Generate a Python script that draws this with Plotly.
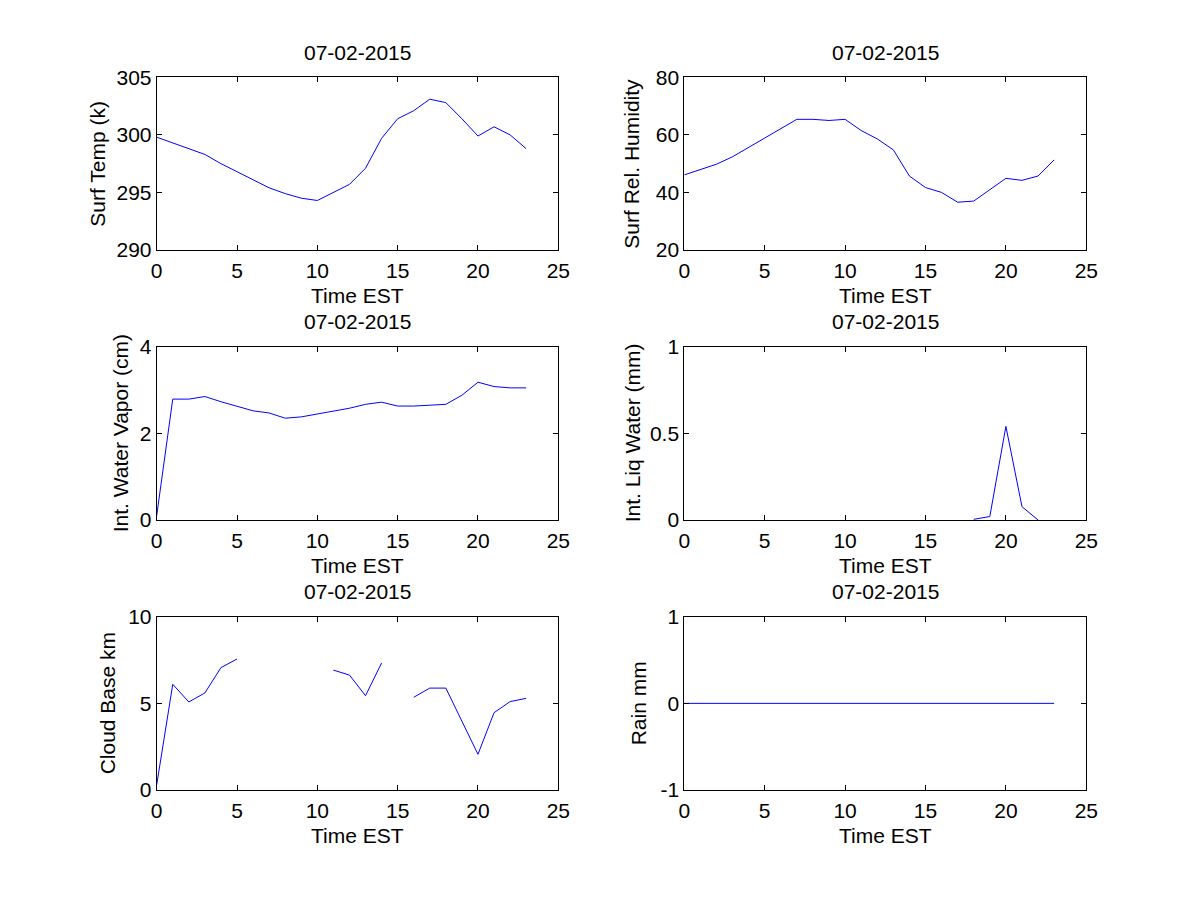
import plotly.graph_objects as go

hours = list(range(24))
title_date = "07-02-2015"
x_label = "Time EST"

surf_temp = [299.8, 299.3, 298.8, 298.3, 297.5, 296.8, 296.1, 295.4, 294.9, 294.5,
             294.3, 295.0, 295.7, 297.1, 299.7, 301.4, 302.1, 303.1, 302.8, 301.4,
             299.9, 300.7, 300.0, 298.8]
surf_rh = [46.1, 48.0, 49.8, 52.4, 55.7, 58.7, 62.3, 65.4, 65.4, 65.0,
           65.4, 61.5, 58.6, 54.8, 45.7, 41.7, 40.0, 36.6, 37.0, 40.9,
           44.9, 44.2, 45.7, 51.3]
int_wv = [0.1, 2.79, 2.79, 2.85, 2.73, 2.62, 2.52, 2.47, 2.35, 2.38,
          2.45, 2.52, 2.58, 2.67, 2.72, 2.63, 2.63, 2.65, 2.67, 2.88,
          3.18, 3.08, 3.05, 3.05]
int_lw = [None, None, None, None, None, None, None, None, None, None,
          None, None, None, None, None, None, None, None, 0.004, 0.02,
          0.54, 0.077, 0, None]
cloud_base = [0.3, 6.1, 5.08, 5.6, 7.06, 7.56, None, None, None, None,
              None, 6.92, 6.63, 5.44, 7.33, None, 5.35, 5.88, 5.88, 3.94,
              2.06, 4.46, 5.1, 5.29]
rain = [0] * 24

y_labels = ["Surf Temp (k)", "Surf Rel. Humidity", "Int. Water Vapor (cm)",
            "Int. Liq Water (mm)", "Cloud Base km", "Rain mm"]
series = [surf_temp, surf_rh, int_wv, int_lw, cloud_base, rain]
y_ranges = [[290, 305], [20, 80], [0, 4], [0, 1], [0, 10], [-1, 1]]
y_ticks = [[290, 295, 300, 305], [20, 40, 60, 80], [0, 2, 4], [0, 0.5, 1],
           [0, 5, 10], [-1, 0, 1]]
y_ticktext = [["290", "295", "300", "305"], ["20", "40", "60", "80"],
              ["0", "2", "4"], ["0", "0.5", "1"], ["0", "5", "10"],
              ["-1", "0", "1"]]
x_ticks = [0, 5, 10, 15, 20, 25]

W, H = 1200, 900
OFF = 8  # page body margin offset
col_px = [(156.7, 558.3), (684.3, 1086.3)]
row_px = [(77.3, 250.0), (346.7, 520.0), (616.7, 790.0)]
ylab_x = [98, 632, 120, 632, 107, 638]

FONT = "Liberation Sans, Arial, sans-serif"
FS = 21


def px_x(v):
    return (v - OFF) / W


def px_y(v):
    return 1 - (v - OFF) / H


fig = go.Figure()
annotations = []
for i in range(6):
    r, c = divmod(i, 2)
    xa = "x" if i == 0 else f"x{i+1}"
    ya = "y" if i == 0 else f"y{i+1}"
    fig.add_trace(go.Scatter(x=hours, y=series[i], mode="lines",
                             line=dict(color="#0000ff", width=1),
                             connectgaps=False, xaxis=xa, yaxis=ya,
                             showlegend=False, hoverinfo="skip"))
    x0, x1 = col_px[c]
    y0, y1 = row_px[r]
    xd = [px_x(x0), px_x(x1)]
    yd = [px_y(y1), px_y(y0)]
    common = dict(showline=True, linecolor="black", linewidth=1, mirror="ticks",
                  ticks="inside", ticklen=5, tickcolor="black", tickwidth=1,
                  showgrid=False, zeroline=False, automargin=False,
                  tickfont=dict(family=FONT, size=FS, color="black"),
                  layer="above traces")
    xname = "xaxis" if i == 0 else f"xaxis{i+1}"
    yname = "yaxis" if i == 0 else f"yaxis{i+1}"
    fig.update_layout(**{
        xname: dict(domain=xd, range=[0, 25], tickmode="array", tickvals=x_ticks,
                    anchor=ya, ticklabelstandoff=2, **common),
        yname: dict(domain=yd, range=y_ranges[i], tickmode="array",
                    tickvals=y_ticks[i], ticktext=y_ticktext[i], anchor=xa,
                    ticklabelstandoff=0, **common),
    })
    cx = px_x((x0 + x1) / 2)
    annotations.append(dict(text=title_date, x=cx, y=px_y(y0 - 25),
                            xref="paper", yref="paper", xanchor="center",
                            yanchor="middle", showarrow=False,
                            font=dict(family=FONT, size=FS, color="black")))
    annotations.append(dict(text=x_label, x=cx, y=px_y(y1 + 45),
                            xref="paper", yref="paper", xanchor="center",
                            yanchor="middle", showarrow=False,
                            font=dict(family=FONT, size=FS, color="black")))
    annotations.append(dict(text=y_labels[i], x=px_x(ylab_x[i]),
                            y=px_y((y0 + y1) / 2), textangle=-90,
                            xref="paper", yref="paper", xanchor="center",
                            yanchor="middle", showarrow=False,
                            font=dict(family=FONT, size=FS, color="black")))

fig.update_layout(width=W, height=H,
                  margin=dict(l=0, r=0, t=0, b=0, pad=0, autoexpand=False),
                  paper_bgcolor="white", plot_bgcolor="white",
                  annotations=annotations)
fig.write_html("out.html")
